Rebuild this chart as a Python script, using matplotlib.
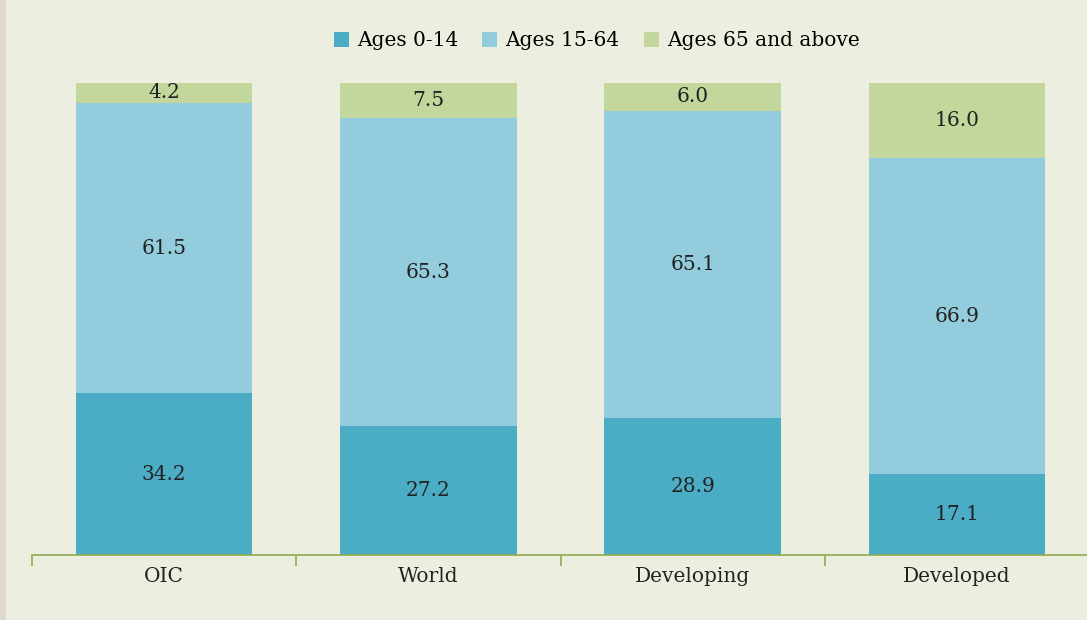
import matplotlib.pyplot as plt
import matplotlib.patches as mpatches
import numpy as np

groups = ["OIC", "World", "Developing", "Developed"]
ages_0_14 = [34.2, 27.2, 28.9, 17.1]
ages_15_64 = [61.5, 65.3, 65.1, 66.9]
ages_65_up = [4.2, 7.5, 6.0, 16.0]
series_names = ["Ages 0-14", "Ages 15-64", "Ages 65 and above"]
colors = ["#4BACC6", "#93CDDD", "#C3D69B"]

bg = "#ECEFDF"
plt.rcParams["font.family"] = ["DejaVu Serif"]

fig = plt.figure(figsize=(10.87, 6.2), dpi=100, facecolor=bg)
# left grey strip like the screenshot
fig.patches.append(mpatches.Rectangle((0, 0), 6 / 1087, 1, transform=fig.transFigure,
                                      facecolor="#DED8D0", edgecolor="none", zorder=0))

ax = fig.add_axes([32 / 1087, 65 / 620, 1057 / 1087, 472.5 / 620])
ax.set_facecolor(bg)

x = np.arange(len(groups))
width = 0.667
bottom = np.zeros(len(groups))
for vals, name, c in zip([ages_0_14, ages_15_64, ages_65_up], series_names, colors):
    bars = ax.bar(x, vals, width, bottom=bottom, color=c, label=name)
    for rect, v, b in zip(bars, vals, bottom):
        ax.text(rect.get_x() + rect.get_width() / 2, b + v / 2, "{:.1f}".format(v),
                ha="center", va="center", fontsize=14.5, color="#222222")
    bottom += np.array(vals)

ax.set_xlim(-0.5, 3.5)
ax.set_ylim(0, 100)
for s in ["top", "right", "left"]:
    ax.spines[s].set_visible(False)
ax.spines["bottom"].set_color("#8DAA4E")
ax.spines["bottom"].set_linewidth(1.2)
ax.set_yticks([])
ax.set_xticks(x)
ax.set_xticklabels(groups, fontsize=14.5, color="#222222")
ax.tick_params(axis="x", length=0, pad=9)
ax.set_xticks(np.arange(-0.5, 4, 1), minor=True)
ax.tick_params(axis="x", which="minor", length=8, color="#8DAA4E", width=1.2)

fig.legend(loc="center", bbox_to_anchor=(0.549, 1 - 41 / 620), ncol=3, frameon=False,
           fontsize=14.5, handlelength=0.75, handleheight=0.75, handletextpad=0.4,
           columnspacing=1.2)

fig.savefig("out.png", dpi=100, facecolor=bg)
